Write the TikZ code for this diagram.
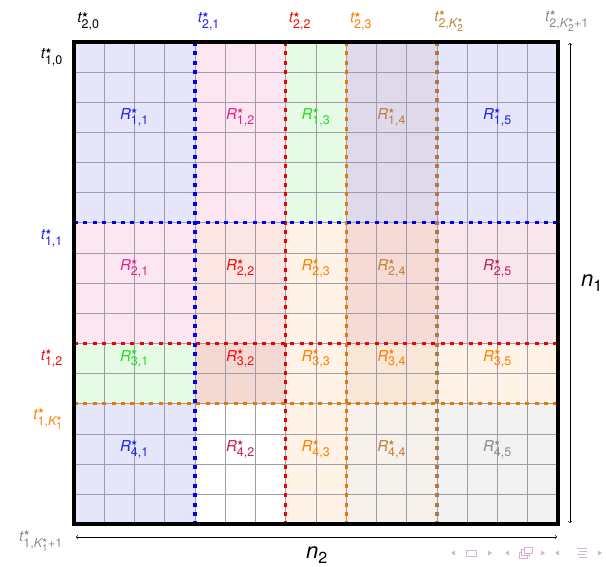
\documentclass[tikz,border=0pt]{standalone}
\usepackage{amsmath}
\usepackage{fontspec}
\setmainfont{TeX Gyre Heros}
\newfontfamily\symfont{DejaVu Sans}
\DeclareMathSizes{15}{15}{12.5}{10}
\DeclareMathSizes{22}{22}{16}{12}
\newcommand\bst{\text{\symfont\fontsize{7.5}{7.5}\selectfont ★}}
\newcommand\sst{\text{\symfont\fontsize{6}{6}\selectfont ★}}
\newcommand\Rlab[1]{$\textit{R}^{\bst}_{\text{#1}}$}
\newcommand\tlab[1]{$\textit{t}^{\bst}_{#1}$}
% fills
\definecolor{fblue}{HTML}{E6E6FA}
\definecolor{fpink}{HTML}{FBE6F2}
\definecolor{fgreen}{HTML}{E6FBE6}
\definecolor{fmauve}{HTML}{DEDAEC}
\definecolor{frose}{HTML}{FCE6E4}
\definecolor{forange}{HTML}{FFF2E6}
\definecolor{fsalmon}{HTML}{F5DAD5}
\definecolor{fsalmonb}{HTML}{F3D9D2}
\definecolor{ftan}{HTML}{F8E6D6}
\definecolor{fcrim}{HTML}{F9E5EC}
\definecolor{fbeige}{HTML}{F6F1EA}
\definecolor{fgray}{HTML}{F2F2F2}
% labels
\definecolor{lblue}{HTML}{2222F0}
\definecolor{lpink}{HTML}{E8208C}
\definecolor{lgreen}{HTML}{22DD22}
\definecolor{lbrown}{HTML}{C08040}
\definecolor{lorange}{HTML}{FF8000}
\definecolor{lred}{HTML}{F01010}
\definecolor{lcrim}{HTML}{C41F55}
\definecolor{lgray}{HTML}{8C8C8C}
% lines
\definecolor{gridc}{HTML}{A09CAA}
\definecolor{sblue}{HTML}{0000F0}
\definecolor{sred}{HTML}{F00000}
\definecolor{sorange}{HTML}{E87800}
\definecolor{sbrown}{HTML}{B07A45}
\definecolor{navc}{HTML}{D8B0DA}
\begin{document}
\begin{tikzpicture}[x=1pt,y=-1pt,
  gridline/.style={draw=gridc, line width=0.9pt},
  splitline/.style={line width=3.2pt, dash pattern=on 4pt off 5.4pt},
  rlab/.style={font=\fontsize{15}{17}\selectfont, inner sep=0pt},
  tlabel/.style={font=\fontsize{15}{17}\selectfont, inner sep=0pt},
  nlab/.style={font=\fontsize{22}{26}\selectfont, inner sep=0pt},
  navtri/.style={fill=navc, draw=none},
  navline/.style={draw=navc, line width=0.8pt}]
\useasboundingbox (0,0) rectangle (606,567);
\begin{scope}[shift={(74pt,-42pt)}, x=30.25pt, y=-30.15pt]
  % row 1
  \fill[fblue]   (0,0) rectangle (4,6);
  \fill[fpink]   (4,0) rectangle (7,6);
  \fill[fgreen]  (7,0) rectangle (9,6);
  \fill[fmauve]  (9,0) rectangle (12,6);
  \fill[fblue]   (12,0) rectangle (16,6);
  % row 2
  \fill[fpink]   (0,6) rectangle (4,10);
  \fill[frose]   (4,6) rectangle (7,10);
  \fill[forange] (7,6) rectangle (9,10);
  \fill[fsalmon] (9,6) rectangle (12,10);
  \fill[fcrim]   (12,6) rectangle (16,10);
  % row 3
  \fill[fgreen]  (0,10) rectangle (4,12);
  \fill[fsalmonb](4,10) rectangle (7,12);
  \fill[forange] (7,10) rectangle (9,12);
  \fill[ftan]    (9,10) rectangle (12,12);
  \fill[forange] (12,10) rectangle (16,12);
  % row 4
  \fill[fblue]   (0,12) rectangle (4,16);
  \fill[white]   (4,12) rectangle (7,16);
  \fill[forange] (7,12) rectangle (9,16);
  \fill[fbeige]  (9,12) rectangle (12,16);
  \fill[fgray]   (12,12) rectangle (16,16);
  % grid
  \foreach \i in {1,...,15} {
    \draw[gridline] (\i,0) -- (\i,16);
    \draw[gridline] (0,\i) -- (16,\i);
  }
  % split lines
  \draw[splitline, draw=sbrown]  (12,0) -- (12,16);
  \draw[splitline, draw=sorange] (9,0) -- (9,16);
  \draw[splitline, draw=sorange] (0,12) -- (16,12);
  \draw[splitline, draw=sred]    (7,0) -- (7,16);
  \draw[splitline, draw=sred]    (0,10) -- (16,10);
  \draw[splitline, draw=sblue]   (4,0) -- (4,16);
  \draw[splitline, draw=sblue]   (0,6) -- (16,6);
  % frame
  \draw[line width=4pt] (0,0) rectangle (16,16);
  % region labels
  \node[rlab, text=lblue]   (R11) at (2,2.5)    {\Rlab{1,1}};
  \node[rlab, text=lpink]   (R12) at (5.5,2.5)  {\Rlab{1,2}};
  \node[rlab, text=lgreen]  (R13) at (8,2.5)    {\Rlab{1,3}};
  \node[rlab, text=lbrown]  (R14) at (10.5,2.5) {\Rlab{1,4}};
  \node[rlab, text=lblue]   (R15) at (14,2.5)   {\Rlab{1,5}};
  \node[rlab, text=lpink]   (R21) at (2,7.5)    {\Rlab{2,1}};
  \node[rlab, text=lred]    (R22) at (5.5,7.5)  {\Rlab{2,2}};
  \node[rlab, text=lorange] (R23) at (8,7.5)    {\Rlab{2,3}};
  \node[rlab, text=lbrown]  (R24) at (10.5,7.5) {\Rlab{2,4}};
  \node[rlab, text=lcrim]   (R25) at (14,7.5)   {\Rlab{2,5}};
  \node[rlab, text=lgreen]  (R31) at (2,10.5)   {\Rlab{3,1}};
  \node[rlab, text=lred]    (R32) at (5.5,10.5) {\Rlab{3,2}};
  \node[rlab, text=lorange] (R33) at (8,10.5)   {\Rlab{3,3}};
  \node[rlab, text=lorange] (R34) at (10.5,10.5){\Rlab{3,4}};
  \node[rlab, text=lorange] (R35) at (14,10.5)  {\Rlab{3,5}};
  \node[rlab, text=lblue]   (R41) at (2,13.5)   {\Rlab{4,1}};
  \node[rlab, text=lcrim]   (R42) at (5.5,13.5) {\Rlab{4,2}};
  \node[rlab, text=lorange] (R43) at (8,13.5)   {\Rlab{4,3}};
  \node[rlab, text=lbrown]  (R44) at (10.5,13.5){\Rlab{4,4}};
  \node[rlab, text=lgray]   (R45) at (14,13.5)  {\Rlab{4,5}};
  % top labels
  \node[tlabel, text=black]   (t20) at (0.48,-0.7)  {\tlab{\text{2,0}}};
  \node[tlabel, text=lblue]   (t21) at (4.46,-0.7)  {\tlab{\text{2,1}}};
  \node[tlabel, text=lred]    (t22) at (7.47,-0.7)  {\tlab{\text{2,2}}};
  \node[tlabel, text=lorange] (t23) at (9.49,-0.7)  {\tlab{\text{2,3}}};
  \node[tlabel, text=lbrown]  (t2K) at (12.4,-0.7)  {\tlab{\text{2,}\textit{K}^{\sst}_{\text{2}}}};
  \node[tlabel, text=lgray]   (t2L) at (16.3,-0.7)  {\tlab{\text{2,}\textit{K}^{\sst}_{\text{2}}\text{+1}}};
  % left labels
  \node[tlabel, text=black, anchor=east]   (t10) at (-0.36,0.5)  {\tlab{\text{1,0}}};
  \node[tlabel, text=lblue, anchor=east]   (t11) at (-0.36,6.5)  {\tlab{\text{1,1}}};
  \node[tlabel, text=lred, anchor=east]    (t12) at (-0.36,10.5) {\tlab{\text{1,2}}};
  \node[tlabel, text=lorange, anchor=east] (t1K) at (-0.36,12.5) {\tlab{\text{1,}\textit{K}^{\sst}_{\text{1}}}};
  \node[tlabel, text=lgray, anchor=east]   (t1L) at (-0.36,16.55) {\tlab{\text{1,}\textit{K}^{\sst}_{\text{1}}\text{+1}}};
\end{scope}
% dimension arrows
\coordinate (vt) at (570,43);
\coordinate (vb) at (570,523);
\coordinate (hl) at (76,537);
\coordinate (hr) at (557,537);
\draw[<->, >=to, line width=0.6pt] (vt) -- (vb);
\draw[<->, >=to, line width=0.6pt] (hl) -- (hr);
\node[nlab] (n1) at (592,283) {$\textit{n}_{\text{1}}$};
\node[nlab] (n2) at (317,555) {$\textit{n}_{\text{2}}$};
% navigation symbols
\fill[navtri] (455,550.5) -- (451,553) -- (455,555.5) -- cycle;
\draw[navline] (466,550) rectangle (476,556);
\fill[navtri] (488,550.5) -- (492,553) -- (488,555.5) -- cycle;
\fill[navtri] (509,550.5) -- (505,553) -- (509,555.5) -- cycle;
\draw[navline, fill=white] (519,552) rectangle (527,558);
\draw[navline, fill=white] (521.5,549.5) rectangle (529.5,555.5);
\draw[navline, fill=white] (524,547) rectangle (532,553);
\fill[navtri] (541,550.5) -- (545,553) -- (541,555.5) -- cycle;
\fill[navtri] (559,550.5) -- (555,553) -- (559,555.5) -- cycle;
\draw[navline] (577,548) -- (587,548);
\draw[navline] (579,551) -- (587,551);
\draw[navline] (577,554) -- (585,554);
\draw[navline] (579,557) -- (587,557);
\fill[navtri] (598,550.5) -- (602,553) -- (598,555.5) -- cycle;
\end{tikzpicture}
\end{document}
